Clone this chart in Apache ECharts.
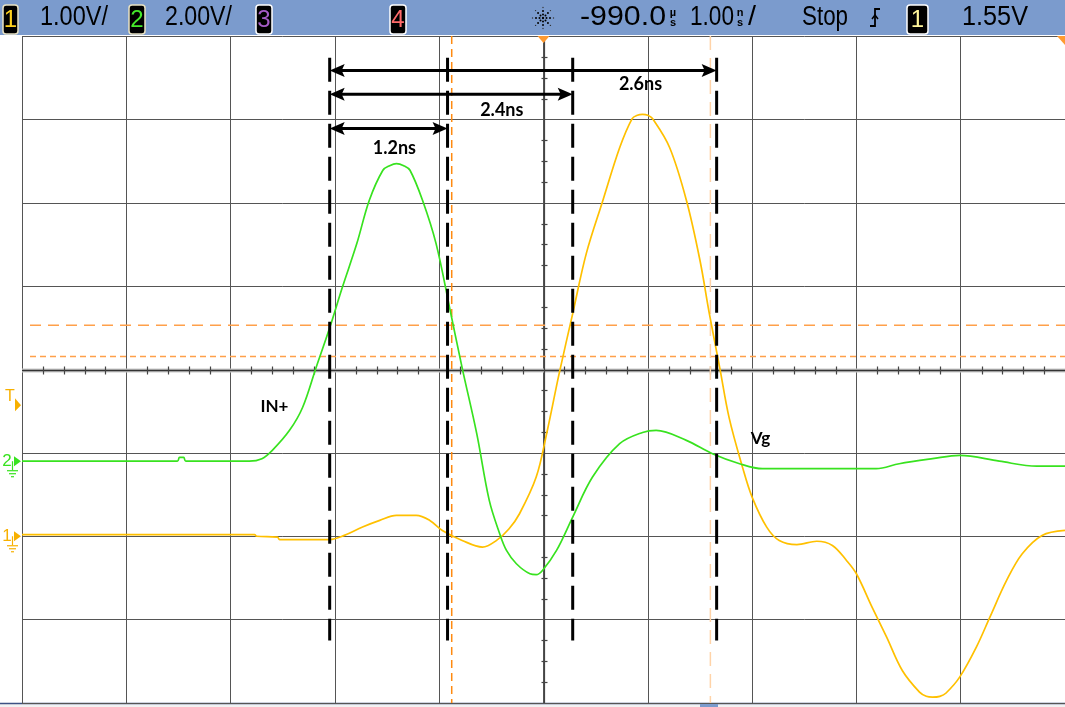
<!DOCTYPE html>
<html><head><meta charset="utf-8">
<script src="https://cdn.jsdelivr.net/npm/echarts@6/dist/echarts.min.js"></script>
<style>html,body{margin:0;padding:0;background:#fff;overflow:hidden}#c{width:1065px;height:707px}</style>
</head><body><div id="c"></div>
<script>
// ---- data (time in ns = horizontal divisions, amplitude in vertical divisions) ----
const inT = [-5.0,-3.51,-3.49,-3.45,-3.43,-2.82,-2.70,-2.60,-2.435,-2.31,-2.18,-2.05,-1.93,-1.79,-1.67,-1.54,-1.475,-1.41,-1.34,-1.28,-1.16,-1.03,-0.90,-0.78,-0.64,-0.52,-0.42,-0.355,-0.26,-0.13,-0.07,-0.01,0.125,0.28,0.47,0.73,0.95,1.08,1.37,1.62,1.88,2.10,3.19,3.41,3.73,3.99,4.37,4.73,5.0];
const inV = [-1.10,-1.10,-1.055,-1.055,-1.10,-1.10,-1.07,-0.97,-0.73,-0.456,0.024,0.50,0.98,1.51,2.03,2.39,2.445,2.47,2.445,2.39,2.03,1.51,0.74,0.02,-0.77,-1.57,-1.97,-2.17,-2.33,-2.45,-2.46,-2.41,-2.17,-1.77,-1.29,-0.89,-0.755,-0.73,-0.85,-1.01,-1.13,-1.19,-1.19,-1.13,-1.07,-1.03,-1.10,-1.16,-1.16];
const vgT = [-5.0,-2.77,-2.75,-2.55,-2.53,-2.05,-1.91,-1.735,-1.57,-1.41,-1.22,-1.09,-0.97,-0.78,-0.585,-0.45,-0.33,-0.23,-0.07,0.03,0.15,0.28,0.41,0.57,0.73,0.85,0.90,0.95,1.00,1.045,1.21,1.37,1.50,1.59,1.69,1.78,1.91,2.00,2.14,2.26,2.43,2.62,2.77,2.905,3.00,3.15,3.29,3.44,3.605,3.67,3.73,3.80,3.86,3.99,4.15,4.28,4.44,4.59,4.78,5.0];
const vgV = [-1.98,-1.98,-2.00,-2.01,-2.04,-2.04,-1.99,-1.89,-1.81,-1.75,-1.75,-1.81,-1.93,-2.05,-2.13,-2.05,-1.91,-1.73,-1.29,-0.77,-0.05,0.67,1.39,2.03,2.66,3.01,3.05,3.06,3.05,3.01,2.66,2.03,1.31,0.67,0.02,-0.58,-1.18,-1.53,-1.89,-2.05,-2.10,-2.06,-2.11,-2.29,-2.45,-2.85,-3.21,-3.61,-3.87,-3.92,-3.93,-3.92,-3.88,-3.69,-3.33,-2.97,-2.53,-2.21,-1.99,-1.93];

// measurement cursors (ns) and their vertical extent (div)
const cursorT = [-2.05,-0.92,0.28,1.66];
const cursorTop = 3.74, cursorBottom = -3.25;
// span arrows
const spanFrom = [-2.05,-2.05,-2.05];
const spanTo = [1.66,0.28,-0.92];
const spanY = [3.585,3.30,2.89];
const spanLabels = ['2.6ns','2.4ns','1.2ns'];
const spanLabelT = [0.93,-0.40,-1.43];
const spanLabelY = [3.42,3.11,2.65];
// trace names
const traceNames = ['IN+','Vg'];
const traceNameT = [-2.58,2.08];
const traceNameY = [-0.44,-0.83];
// scope cursors (orange)
const hCursorY = [0.53,0.156];
const vCursorT = [-0.88,1.60];
// channel ground levels and trigger level (div)
const ch1Level = -2.0, ch2Level = -1.10, trigLevel = -0.43;
// header texts
const headerTexts = ['1.00V/','2.00V/','-990.0','1.00','/','Stop','1.55V'];

const chart = echarts.init(document.getElementById('c'), null, {renderer:'canvas'});
const GREEN = '#38e21f', YELLOW = '#ffc000', ORANGE = '#f7b000';

const xMinor = [], yMinor = [];
for (let i=-25;i<=25;i++){ if (i%5!==0) xMinor.push(i/5); }
for (let i=-16;i<=16;i++){ if (i%4!==0) yMinor.push(i/4); }

function zip(a,b){ return a.map((v,i)=>[v,b[i]]); }

function renderCenter(params, api){
  const L = api.coord([-5,0]), R = api.coord([5,0]);
  const T = api.coord([0,4]), B = api.coord([0,-4]);
  const cy = Math.round(L[1])+0.5, cx = Math.round(T[0])+0.5;
  const ch = [
    {type:'line', shape:{x1:L[0],y1:cy,x2:R[0],y2:cy}, style:{stroke:'#c9c9c9',lineWidth:4}},
    {type:'line', shape:{x1:L[0],y1:cy,x2:R[0],y2:cy}, style:{stroke:'#333',lineWidth:1.5}},
    {type:'line', shape:{x1:cx,y1:T[1],x2:cx,y2:B[1]}, style:{stroke:'#444',lineWidth:1.2}}
  ];
  xMinor.forEach(t=>{ const p=api.coord([t,0]); const x=Math.round(p[0])+0.5;
    ch.push({type:'line', shape:{x1:x,y1:cy-4,x2:x,y2:cy+4}, style:{stroke:'#444',lineWidth:1.2}}); });
  yMinor.forEach(v=>{ const p=api.coord([0,v]); const y=Math.round(p[1])+0.5;
    ch.push({type:'line', shape:{x1:cx-3,y1:y,x2:cx+3,y2:y}, style:{stroke:'#444',lineWidth:1.2}}); });
  return {type:'group', children:ch};
}

function renderOrange(params, api){
  const ch = [];
  const dashes = [[11,7],[6,4]];
  hCursorY.forEach((v,i)=>{ const a=api.coord([-5,v]), b=api.coord([5,v]);
    ch.push({type:'line', shape:{x1:a[0]+8,y1:a[1],x2:b[0],y2:b[1]}, style:{stroke:'#ffa04a',lineWidth:1.6,lineDash:dashes[i]}}); });
  const vcol = ['#ff8a10','#ffd3a8'], vdash=[[8,5],[14,8]];
  vCursorT.forEach((t,i)=>{ const a=api.coord([t,4]), b=api.coord([t,-4]);
    ch.push({type:'line', shape:{x1:a[0],y1:a[1],x2:b[0],y2:b[1]}, style:{stroke:vcol[i],lineWidth:1.5,lineDash:vdash[i]}}); });
  return {type:'group', children:ch};
}

function renderCursors(params, api){
  const t = api.value(0);
  const a = api.coord([t,cursorTop]), b = api.coord([t,cursorBottom]);
  return {type:'line', shape:{x1:a[0],y1:a[1],x2:b[0],y2:b[1]}, style:{stroke:'#000',lineWidth:3,lineDash:[24,9]}};
}

function arrowHead(tip, dir){
  const L=15, W=6.5, N=3;
  const x=tip[0], y=tip[1];
  return {type:'polygon', shape:{points:[[x,y],[x-dir*L,y-W],[x-dir*(L-N),y],[x-dir*L,y+W]]}, style:{fill:'#000'}};
}

function renderSpans(params, api){
  const i = params.dataIndex;
  const a = api.coord([spanFrom[i], spanY[i]]), b = api.coord([spanTo[i], spanY[i]]);
  const lp = api.coord([spanLabelT[i], spanLabelY[i]]);
  return {type:'group', children:[
    {type:'line', shape:{x1:a[0]+6,y1:a[1],x2:b[0]-6,y2:b[1]}, style:{stroke:'#000',lineWidth:3}},
    arrowHead(a,-1), arrowHead(b,1),
    {type:'text', x:lp[0], y:lp[1], style:{text:spanLabels[i], fill:'#000', fontFamily:'Lato', fontWeight:'bold', fontSize:18, align:'center', verticalAlign:'middle'}}
  ]};
}

function renderNames(params, api){
  const i = params.dataIndex;
  const p = api.coord([traceNameT[i], traceNameY[i]]);
  return {type:'text', x:p[0], y:p[1], style:{text:traceNames[i], fill:'#000', fontFamily:'Lato', fontWeight:'bold', fontSize:17, align:'center', verticalAlign:'middle'}};
}

function chMarker(y, label, color){
  const gx = 12;
  return [
    {type:'text', x:7, y:y, style:{text:label, fill:color, fontFamily:'Liberation Sans', fontSize:17, align:'center', verticalAlign:'middle'}},
    {type:'polygon', shape:{points:[[14,y-5],[21,y],[14,y+5]]}, style:{fill:color}},
    {type:'line', shape:{x1:gx+0.5,y1:y,x2:gx+0.5,y2:y+9}, style:{stroke:color,lineWidth:1.2}},
    {type:'line', shape:{x1:gx-5,y1:y+9.5,x2:gx+6,y2:y+9.5}, style:{stroke:color,lineWidth:1.2}},
    {type:'line', shape:{x1:gx-3,y1:y+12.5,x2:gx+4,y2:y+12.5}, style:{stroke:color,lineWidth:1.2}},
    {type:'line', shape:{x1:gx-1,y1:y+15.5,x2:gx+2,y2:y+15.5}, style:{stroke:color,lineWidth:1.2}}
  ];
}

function renderMarkers(params, api){
  const p2 = api.coord([-5,ch2Level]), p1 = api.coord([-5,ch1Level]), pt = api.coord([-5,trigLevel]);
  const ch = [].concat(chMarker(p2[1],'2',GREEN), chMarker(p1[1],'1',ORANGE));
  ch.push({type:'text', x:10, y:pt[1]-9, style:{text:'T', fill:ORANGE, fontFamily:'Liberation Sans', fontSize:16, align:'center', verticalAlign:'middle'}});
  ch.push({type:'polygon', shape:{points:[[15,pt[1]-7],[21,pt[1]],[15,pt[1]+6]]}, style:{fill:ORANGE}});
  const top = api.coord([0,4]);
  ch.push({type:'polygon', shape:{points:[[top[0]-6,top[1]],[top[0]+6,top[1]],[top[0],top[1]+7]]}, style:{fill:'#ff9a30'}});
  const tr = api.coord([5,4]);
  ch.push({type:'polygon', shape:{points:[[tr[0]-8,tr[1]],[tr[0],tr[1]],[tr[0],tr[1]+9]]}, style:{fill:'#ff9a30'}});
  return {type:'group', children:ch};
}

// header helpers
const mctx = document.createElement('canvas').getContext('2d');
function fitText(str, left, cy, size, w, color, weight){
  const fam = 'Liberation Sans';
  mctx.font = (weight||'normal')+' '+size+'px "'+fam+'"';
  const mw = mctx.measureText(str).width || 1;
  return {type:'text', x:left, y:cy, scaleX:w/mw, silent:true,
    style:{text:str, fill:color, fontFamily:fam, fontSize:size, fontWeight:weight||'normal', align:'left', verticalAlign:'middle'}};
}
function badge(x, w, digit, color, border){
  return [
    {type:'rect', shape:{x:x,y:5,width:w,height:29,r:3}, style:{fill:'#000', stroke:border, lineWidth:1.5}},
    {type:'text', x:x+w/2, y:20, style:{text:digit, fill:color, fontFamily:'Liberation Sans', fontSize:24, align:'center', verticalAlign:'middle'}}
  ];
}
function snowflake(cx, cy){
  const els = [{type:'circle', shape:{cx:cx,cy:cy,r:1.2}, style:{fill:'#000'}}];
  for (let k=0;k<8;k++){ const a=k*Math.PI/4;
    [3.5,7,10.5].forEach((r,j)=>{ els.push({type:'circle', shape:{cx:cx+r*Math.cos(a), cy:cy+r*Math.sin(a), r: j===2?0.7:1.0}, style:{fill: j===2?'#333':'#000'}}); });
  }
  return els;
}
function unitStack(x, top, bottom){
  return [
    {type:'text', x:x, y:13, style:{text:top, fill:'#000', fontFamily:'Liberation Sans', fontSize:11, fontWeight:'bold', align:'center', verticalAlign:'middle'}},
    {type:'text', x:x, y:23, style:{text:bottom, fill:'#000', fontFamily:'Liberation Sans', fontSize:11, fontWeight:'bold', align:'center', verticalAlign:'middle'}}
  ];
}

const HB = '#7b9bcd';
const graphic = [].concat(
  [{type:'rect', shape:{x:0,y:0,width:1065,height:35}, style:{fill:HB}, silent:true}],
  [{type:'rect', shape:{x:0,y:703,width:1065,height:4}, style:{fill:'#f2f2f2'}, silent:true},
   {type:'line', shape:{x1:0,y1:703.5,x2:1065,y2:703.5}, style:{stroke:'#3d5183',lineWidth:1.5}, silent:true},
   {type:'rect', shape:{x:700,y:704,width:18,height:3}, style:{fill:HB}, silent:true}],
  badge(3,15,'1','#ffd21e','#e9e2c2'),
  [fitText(headerTexts[0],40,18,27,68,'#000')],
  badge(129,16,'2','#45ea2a','#e9e2c2'),
  [fitText(headerTexts[1],165,18,27,67,'#000')],
  badge(256,16,'3','#a65cc8','#ffffff'),
  badge(390,16,'4','#ff6a6a','#ffffff'),
  snowflake(543,18),
  [fitText(headerTexts[2],580,18,27,86,'#000')],
  unitStack(673,'µ','s'),
  [fitText(headerTexts[3],690,18,27,44,'#000')],
  unitStack(740,'n','s'),
  [fitText(headerTexts[4],748,18,27,8,'#000')],
  [fitText(headerTexts[5],802,18,27,46,'#000')],
  [{type:'polyline', shape:{points:[[870,26],[875,26],[875,9],[880,9]]}, style:{stroke:'#000',lineWidth:1.8,fill:null}},
   {type:'polyline', shape:{points:[[872,19],[875,15],[878,19]]}, style:{stroke:'#000',lineWidth:1.5,fill:null}}],
  badge(907,21,'1','#fff59a','#ffffff'),
  [fitText(headerTexts[6],962,18,27,66,'#000')]
);

const option = {
  animation:false,
  backgroundColor:'#ffffff',
  grid:{left:22,right:0,top:36,bottom:4,containLabel:false},
  xAxis:{type:'value',min:-5,max:5,interval:1,axisLine:{show:false},axisTick:{show:false},axisLabel:{show:false},
    splitLine:{show:true,lineStyle:{color:'#555',width:1}}},
  yAxis:{type:'value',min:-4,max:4,interval:1,axisLine:{show:false},axisTick:{show:false},axisLabel:{show:false},
    splitLine:{show:true,lineStyle:{color:'#555',width:1}}},
  series:[
    {type:'custom', renderItem:renderCenter, data:[[0,0]], z:1, silent:true},
    {type:'custom', renderItem:renderOrange, data:[[0,0]], z:2, silent:true},
    {name:'IN+', type:'line', data:zip(inT,inV), showSymbol:false, smooth:0.35, lineStyle:{color:GREEN,width:1.7}, z:4, silent:true},
    {name:'Vg', type:'line', data:zip(vgT,vgV), showSymbol:false, smooth:0.35, lineStyle:{color:YELLOW,width:1.7}, z:3, silent:true},
    {type:'custom', renderItem:renderCursors, data:cursorT.map(t=>[t,0]), encode:{x:0,y:1}, z:6, silent:true},
    {type:'custom', renderItem:renderSpans, data:spanFrom.map((f,i)=>[f,spanY[i]]), encode:{x:0,y:1}, z:7, silent:true},
    {type:'custom', renderItem:renderNames, data:traceNames.map((n,i)=>[traceNameT[i],traceNameY[i]]), encode:{x:0,y:1}, z:7, silent:true},
    {type:'custom', renderItem:renderMarkers, data:[[0,0]], z:8, silent:true, clip:false}
  ],
  graphic:graphic
};
chart.setOption(option);
</script>
</body></html>
